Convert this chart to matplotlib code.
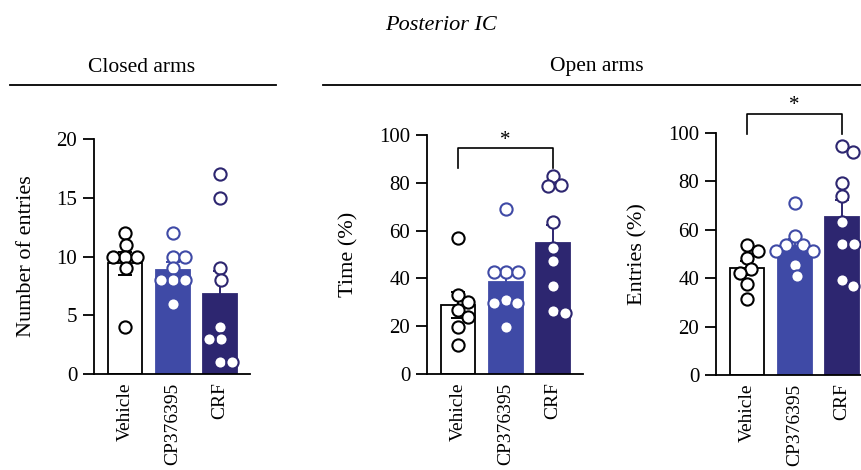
import numpy as np
import matplotlib
matplotlib.use("Agg")
import matplotlib.pyplot as plt
from matplotlib.lines import Line2D

plt.rcParams['font.family'] = ['Liberation Serif', 'DejaVu Serif']

groups = ["Vehicle", "CP376395", "CRF"]
bar_colors = ["white", "#3f4aa6", "#2d2670"]
edge_colors = ["black", "#3f4aa6", "#2d2670"]

# closed arms, number of entries
closed_entries = [
    [12, 11, 10, 10, 10, 9, 4],
    [12, 10, 10, 9, 8, 8, 8, 6],
    [17, 15, 9, 8, 4, 3, 3, 1, 1],
]
# open arms, time (%)
open_time = [
    [57, 33, 30, 26.6, 23.8, 19.8, 12.3],
    [69, 42.5, 42.5, 42.5, 31, 29.7, 29.7, 19.8],
    [83, 79.1, 78.5, 63.4, 52.9, 47.4, 36.9, 26.3, 25.6],
]
# open arms, entries (%)
open_entries = [
    [53.9, 51.4, 48.5, 43.9, 42.3, 37.6, 31.5],
    [70.9, 57.4, 53.9, 53.9, 51.2, 51.2, 45.6, 40.8],
    [94.6, 92.1, 79.5, 73.8, 63.4, 54.1, 54.1, 39.1, 36.8],
]

W, H = 862, 470
fig = plt.figure(figsize=(W / 100, H / 100), dpi=100)

DOT_PX = 12.0


def swarm(values, px_per_unit, diam_px, px_per_x):
    # simple beeswarm: smallest sideways shift that avoids overlap
    placed = []
    offsets = []
    cands = np.arange(0, 4 * diam_px, 0.5)
    for v in values:
        y = v * px_per_unit
        best = None
        for c in cands:
            for s in ([c, -c] if c > 0 else [0]):
                ok = all((s - px) ** 2 + (y - py) ** 2 >= (diam_px * 0.98) ** 2
                         for px, py in placed)
                if ok:
                    best = s
                    break
            if best is not None:
                break
        placed.append((best, y))
        offsets.append(best / px_per_x)
    return offsets


def panel(rect, data, ymax, yticks, ylabel, sig=None):
    ax = fig.add_axes(rect)
    x = np.arange(len(groups))
    ax.set_xlim(-0.66, 2.63)
    ax.set_ylim(0, ymax)
    px_per_x = rect[2] * W / 3.29
    px_per_y = rect[3] * H / ymax
    for i, vals in enumerate(data):
        vals = np.array(vals, dtype=float)
        m = vals.mean()
        sem = vals.std(ddof=1) / np.sqrt(len(vals))
        ax.bar(x[i], m, width=0.71, color=bar_colors[i],
               edgecolor="black" if i == 0 else bar_colors[i], linewidth=1.3, zorder=1)
        ax.errorbar(x[i], m, yerr=sem, color=edge_colors[i], capsize=5, elinewidth=1.4,
                    capthick=1.4, zorder=2)
        offs = swarm(vals, px_per_y, DOT_PX, px_per_x)
        ax.plot(x[i] + np.array(offs), vals, "o", ms=8.8, mfc="white",
                mec=edge_colors[i], mew=1.5, linestyle="none", zorder=3, clip_on=False)
    ax.set_yticks(yticks)
    ax.set_xticks(x)
    ax.set_xticklabels(groups, rotation=90, fontsize=14)
    ax.tick_params(axis="y", length=8, width=1.3, labelsize=15, pad=4)
    ax.tick_params(axis="x", length=0, pad=6)
    for s in ["top", "right"]:
        ax.spines[s].set_visible(False)
    for s in ["left", "bottom"]:
        ax.spines[s].set_linewidth(1.3)
    ax.set_ylabel(ylabel, fontsize=16, labelpad=15)
    if sig is not None:
        top, low, star = sig
        ax.plot([0, 0, 2, 2], [low, top, top, low], color="black", lw=1.2, clip_on=False)
        ax.text(1, star, "*", ha="center", va="center", fontsize=15, clip_on=False)
    return ax


panel([94 / W, 1 - 374 / H, 156 / W, 235 / H], closed_entries, 20, [0, 5, 10, 15, 20],
      "Number of entries")
panel([427 / W, 1 - 374 / H, 156 / W, 239 / H], open_time, 100, [0, 20, 40, 60, 80, 100],
      "Time (%)", sig=(94.6, 86, 97.5))
panel([716 / W, 1 - 375 / H, 156 / W, 242 / H], open_entries, 100, [0, 20, 40, 60, 80, 100],
      "Entries (%)", sig=(107.9, 99.6, 111.2))

fig.text(441 / W, 1 - 25 / H, "Posterior IC", ha="center", va="center", fontsize=16,
         style="italic")
fig.text(142 / W, 1 - 68 / H, "Closed arms", ha="center", va="center", fontsize=15.5)
fig.text(597 / W, 1 - 66 / H, "Open arms", ha="center", va="center", fontsize=15.5)
fig.add_artist(Line2D([10 / W, 276 / W], [1 - 85 / H, 1 - 85 / H], color="black", lw=1.3))
fig.add_artist(Line2D([323 / W, 1.0], [1 - 85 / H, 1 - 85 / H], color="black", lw=1.3))

fig.savefig("out.png", dpi=100)
